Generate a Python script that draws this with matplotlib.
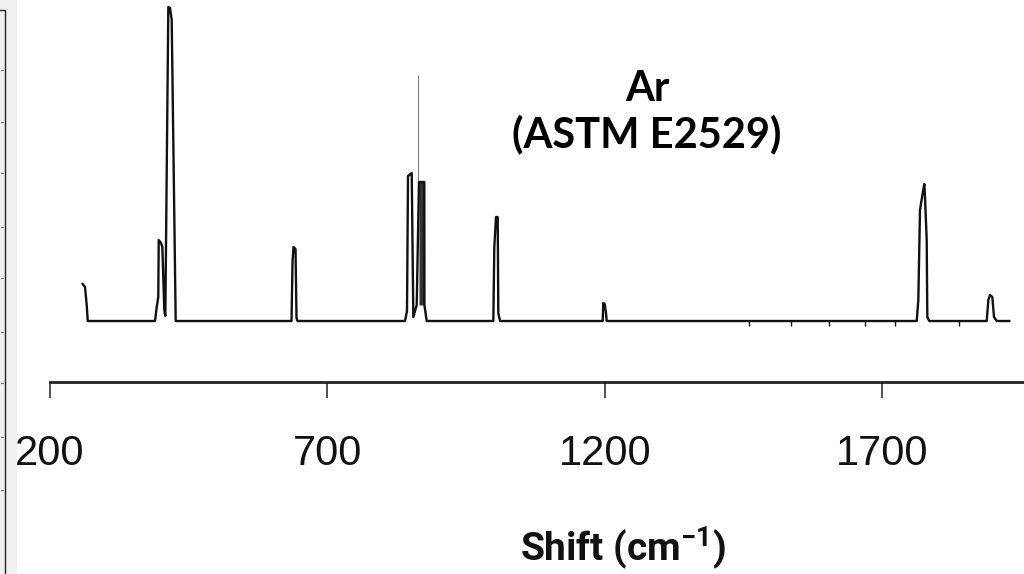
import numpy as np
import matplotlib
matplotlib.use("Agg")
import matplotlib.pyplot as plt
from matplotlib.lines import Line2D
from matplotlib.patches import Rectangle

plt.rcParams["mathtext.fontset"] = "custom"
plt.rcParams["mathtext.rm"] = "Roboto"
plt.rcParams["mathtext.bf"] = "Roboto:bold"

# ---- data (Raman shift, cm^-1 vs relative intensity) ----
shift = [258.9, 263.1, 266.2, 268.0, 389.3, 392.4, 395.2, 396.0, 400.1, 402.5,
         406.1, 407.9, 413.3, 416.3, 419.4, 426.6, 635.4, 637.2, 639.0, 642.6,
         644.4, 646.2, 840.0, 843.6, 845.4, 852.1, 855.0, 861.1, 865.2, 874.8,
         875.0, 879.1, 999.2, 1001.0, 1004.0, 1007.1, 1008.2, 1011.3, 1196.4,
         1197.5, 1200.0, 1202.3, 1203.6, 1762.5, 1765.4, 1768.4, 1773.3, 1776.2,
         1777.4, 1780.5, 1781.6, 1785.2, 1888.7, 1891.6, 1894.6, 1898.8, 1901.8,
         1906.7, 1929.4]
intensity = [37, 34, 16, 0, 0, 14, 24, 81, 78, 74,
             11, 5, 314, 313, 301, 0, 0, 59, 74, 72,
             3, 0, 0, 10, 145, 148, 4, 16, 139, 139,
             16, 0, 0, 74, 104, 104, 8, 0, 0,
             18, 17, 8, 0, 0, 21, 111, 128, 137,
             124, 81, 4, 0, 0, 21, 26, 24, 4,
             0, 0]

# thin vertical line rising above the 866 cm^-1 band
spike_shift = 864.0
spike_top = 246

# small marks hanging below the baseline
baseline_marks = [1461, 1535, 1605, 1670, 1723, 1838]

tick_values = [200, 700, 1200, 1700]
tick_labels = ["200", "700", "1200", "1700"]

title_line1 = "Ar"
title_line2 = "(ASTM E2529)"
xlabel = r"Shift (cm$^{\mathbf{-1}}$)"

# ---- figure ----
W, H = 1024, 574
fig = plt.figure(figsize=(W / 100, H / 100), dpi=100)
fig.patch.set_facecolor("white")

x0_px, axis_y_px = 50, 382
ax = fig.add_axes([x0_px / W, (H - axis_y_px) / H, (W - x0_px) / W, axis_y_px / H])
px_per_unit = 0.5547
ax.set_xlim(200, 200 + (W - x0_px) / px_per_unit)
ax.set_ylim(-61, 321)
ax.set_facecolor("none")

s = np.array(shift)
i = np.array(intensity)
ax.plot(s, i, color="#111111", lw=1.7, solid_joinstyle="round", zorder=3)
ax.fill_between(s, i, 16, where=(s >= 865) & (s <= 875), color="#333333",
                lw=0, zorder=2)
ax.vlines(spike_shift, 139, spike_top, color="#777777", lw=0.7, zorder=2)
ax.vlines(baseline_marks, -5, 0, color="#111111", lw=1.0, zorder=2)

for side in ("top", "left", "right"):
    ax.spines[side].set_visible(False)
ax.spines["bottom"].set_linewidth(2.0)
ax.spines["bottom"].set_color("#222222")
ax.set_yticks([])
ax.set_xticks(tick_values)
ax.set_xticklabels(tick_labels, family=["Liberation Sans", "DejaVu Sans"],
                   fontsize=30, color="#111111")
ax.tick_params(axis="x", direction="out", length=11.5, width=1.1,
               color="#222222", pad=26)

# annotation text
fig.text(647 / W, (H - 101) / H, title_line1, ha="center", va="baseline",
         family=["Lato", "DejaVu Sans"], fontweight="bold", fontsize=30,
         color="black")
fig.text(647 / W, (H - 147) / H, title_line2, ha="center", va="baseline",
         family=["Lato", "DejaVu Sans"], fontweight="bold", fontsize=30,
         color="black")
fig.text(623 / W, (H - 561) / H, xlabel, ha="center", va="baseline",
         family=["Roboto", "DejaVu Sans"], fontweight="bold", fontsize=28,
         color="#111111")

# left window-edge strip
fig.patches.append(Rectangle((0, 0), 17 / W, 1, transform=fig.transFigure,
                             facecolor="#f0f0f0", edgecolor="none", zorder=0))
fig.lines.append(Line2D([0, 4.5 / W, 4.5 / W], [(H - 10) / H, (H - 10) / H, 0],
                        transform=fig.transFigure, color="#222222", lw=1.0))
for yp in [70, 122, 173, 227, 278, 332, 383, 437, 490]:
    fig.lines.append(Line2D([0.5 / W, 2.5 / W], [(H - yp) / H] * 2,
                            transform=fig.transFigure, color="#888888", lw=0.8))

fig.savefig("out.png", dpi=100)
